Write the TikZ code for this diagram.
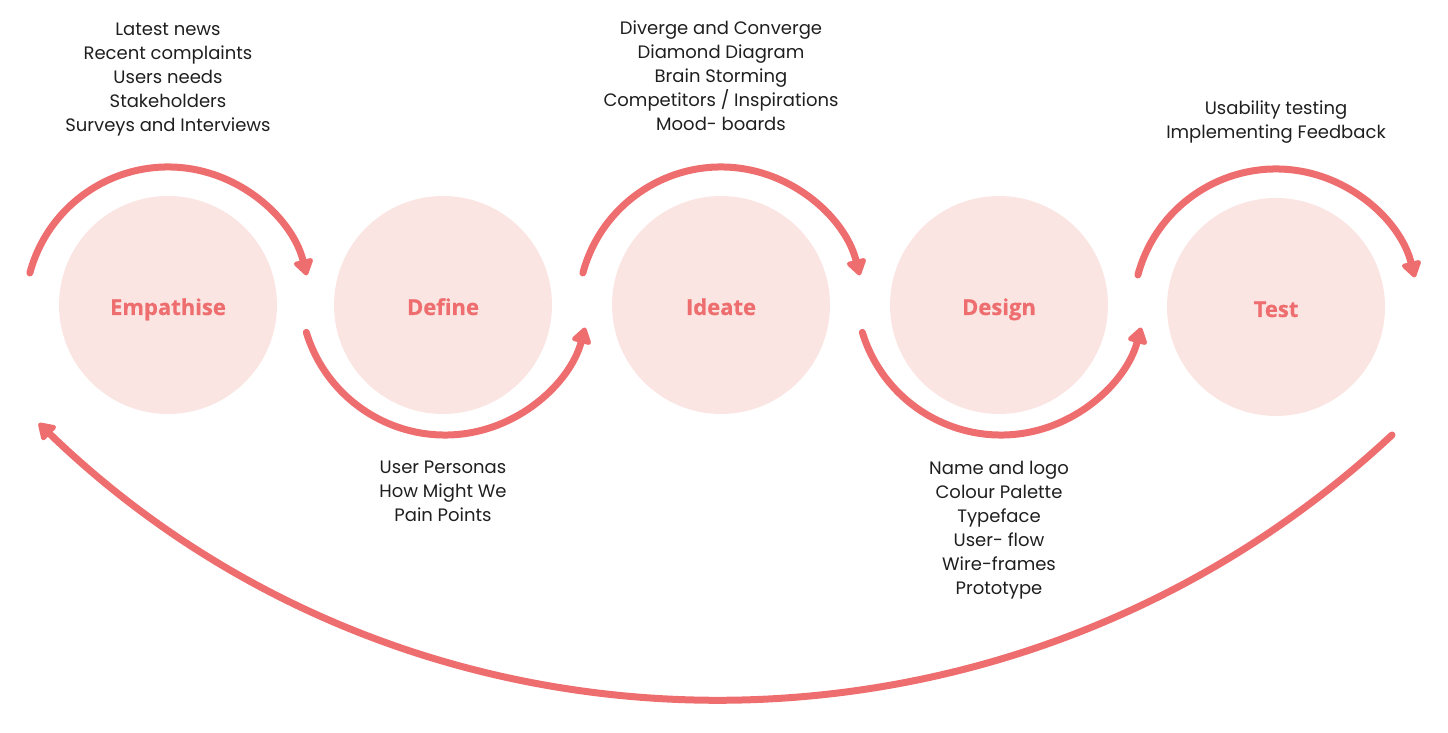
\documentclass[tikz,border=0pt]{standalone}
\usepackage{fontspec}
\setmainfont{Poppins}
\newfontfamily\stagefont{Open Sans}[BoldFeatures={FakeBold=0.6}]
\usetikzlibrary{arrows.meta}
\definecolor{coral}{HTML}{EE6E70}
\definecolor{blush}{HTML}{FBE5E2}
\tikzset{
  stage/.style={circle, fill=blush, minimum size=218pt, inner sep=0pt,
    text height=20pt, text depth=0pt,
    text=coral, font=\stagefont\bfseries\fontsize{22}{26}\selectfont},
  notes/.style={align=center, text=black!88, font=\fontsize{18}{24}\selectfont},
  flowarc/.style={draw=coral, line width=7pt, line cap=round,
    -{Triangle[length=18pt,width=22pt,round]}}
}
\begin{document}
\begin{tikzpicture}[x=1pt,y=1pt]
\useasboundingbox (0,0) rectangle (1448,733);
% stages
\node[stage] (emp) at (168,428) {Empathise};
\node[stage] (def) at (443,428) {Define};
\node[stage] (ide) at (721,428) {Ideate};
\node[stage] (des) at (999,428) {Design};
\node[stage] (tst) at (1276,426) {Test};
% arcs above and below
\foreach \s in {emp,ide,tst}
  \draw[flowarc] (\s.center) ++(0,-5) ++(165:143) arc[start angle=165, end angle=14, radius=143];
\foreach \s in {def,des}
  \draw[flowarc] (\s.center) ++(2,15) ++(197:145) arc[start angle=197, end angle=345, radius=145];
% back to the start
\draw[flowarc] (tst.center) ++(116,-128) arc[start angle=-47, end angle=-134, radius=983];
% notes
\node[notes] (empnotes) at (168,653) {Latest news\\Recent complaints\\Users needs\\Stakeholders\\Surveys and Interviews};
\node[notes] (defnotes) at (443,242) {User Personas\\How Might We\\Pain Points};
\node[notes] (idenotes) at (721,657) {Diverge and Converge\\Diamond Diagram\\Brain Storming\\Competitors / Inspirations\\Mood- boards};
\node[notes] (desnotes) at (999,203) {Name and logo\\Colour Palette\\Typeface\\User- flow\\Wire-frames\\Prototype};
\node[notes] (tstnotes) at (1276,611) {Usability testing\\Implementing Feedback};
\end{tikzpicture}
\end{document}
